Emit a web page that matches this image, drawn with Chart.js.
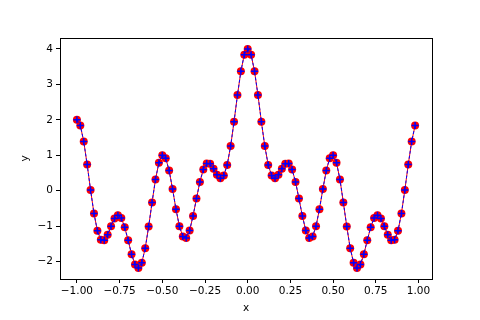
<!DOCTYPE html>
<html>
<head>
<meta charset="utf-8">
<script src="https://cdn.jsdelivr.net/npm/chart.js@4/dist/chart.umd.min.js"></script>
<style>
html, body { margin: 0; padding: 0; background: #fff; }
#wrap { width: 480px; height: 320px; }
</style>
</head>
<body>
<div id="wrap"><canvas id="chart" width="480" height="320"></canvas></div>
<script>
// x from -1.00 to 0.98, step 0.02
var xs = [];
for (var i = 0; i < 100; i++) xs.push(Math.round((-1 + i * 0.02) * 100) / 100);

var ys = [
	2.00, 1.84, 1.39, 0.74, 0.02, -0.64, -1.13, -1.38, -1.40, -1.24,
	-1.00, -0.78, -0.69, -0.77, -1.03, -1.40, -1.79, -2.08, -2.18, -2.03,
	-1.62, -1.01, -0.33, 0.32, 0.79, 1.00, 0.92, 0.57, 0.05, -0.52,
	-1.00, -1.29, -1.33, -1.12, -0.71, -0.22, 0.25, 0.60, 0.77, 0.76,
	0.62, 0.45, 0.35, 0.43, 0.73, 1.26, 1.95, 2.70, 3.37, 3.84,
	4.00,
	3.84, 3.37, 2.70, 1.95, 1.26, 0.73, 0.43, 0.35, 0.45, 0.62,
	0.76, 0.77, 0.60, 0.25, -0.22, -0.71, -1.12, -1.33, -1.29, -1.00,
	-0.52, 0.05, 0.57, 0.92, 1.00, 0.79, 0.32, -0.33, -1.01, -1.62,
	-2.03, -2.18, -2.08, -1.79, -1.40, -1.03, -0.77, -0.69, -0.78, -1.00,
	-1.24, -1.40, -1.38, -1.13, -0.64, 0.02, 0.74, 1.39, 1.84
];

var xTicks = [-1, -0.75, -0.5, -0.25, 0, 0.25, 0.5, 0.75, 1];
var yTicks = [-2, -1, 0, 1, 2, 3, 4];

var pts = xs.map(function (x, i) { return {x: x, y: ys[i]}; });
var font = {family: 'DejaVu Sans', size: 10.5};

var frame = {
	id: 'frame',
	afterDraw: function (chart) {
		var a = chart.chartArea, c = chart.ctx;
		c.save();
		c.strokeStyle = '#000';
		c.lineWidth = 1;
		c.strokeRect(Math.round(a.left) + 0.5, Math.round(a.top) + 0.5,
			Math.round(a.right - a.left), Math.round(a.bottom - a.top));
		c.restore();
	}
};

var ctx = document.getElementById('chart').getContext('2d');
var chart = new Chart(ctx, {
	type: 'scatter',
	data: {
		datasets: [{
			label: 'points',
			data: pts,
			backgroundColor: 'red',
			borderColor: 'red',
			borderWidth: 1,
			pointRadius: 4,
			pointBorderWidth: 0,
			showLine: true,
			order: 2
		}, {
			label: 'line',
			data: pts,
			borderColor: 'blue',
			backgroundColor: 'blue',
			borderWidth: 1,
			borderDash: [3, 2],
			pointStyle: 'cross',
			pointRadius: 3.5,
			pointBorderWidth: 1.5,
			showLine: true,
			order: 1
		}]
	},
	plugins: [frame],
	options: {
		responsive: false,
		animation: false,
		layout: {padding: {left: 0, right: 48, top: 38, bottom: 0}},
		plugins: {legend: {display: false}, tooltip: {enabled: false}},
		scales: {
			x: {
				type: 'linear',
				min: -1.099,
				max: 1.079,
				afterBuildTicks: function (s) { s.ticks = xTicks.map(function (v) { return {value: v}; }); },
				afterFit: function (s) { s.height = 41; },
				ticks: {
					color: '#000', font: font, padding: 2, maxRotation: 0,
					callback: function (v) { return v.toFixed(2).replace('-', '\u2212'); }
				},
				grid: {drawOnChartArea: false, tickLength: 4, color: '#000'},
				border: {color: '#000'},
				title: {display: true, text: 'x', color: '#000', font: font, padding: {top: 1, bottom: 5}}
			},
			y: {
				type: 'linear',
				min: -2.49,
				max: 4.31,
				afterBuildTicks: function (s) { s.ticks = yTicks.map(function (v) { return {value: v}; }); },
				afterFit: function (s) { s.width = 60; },
				ticks: {
					color: '#000', font: font, padding: 3,
					callback: function (v) { return String(v).replace('-', '\u2212'); }
				},
				grid: {drawOnChartArea: false, tickLength: 4, color: '#000'},
				border: {color: '#000'},
				title: {display: true, text: 'y', color: '#000', font: font, padding: {top: 19, bottom: 0}}
			}
		}
	}
});
</script>
</body>
</html>
